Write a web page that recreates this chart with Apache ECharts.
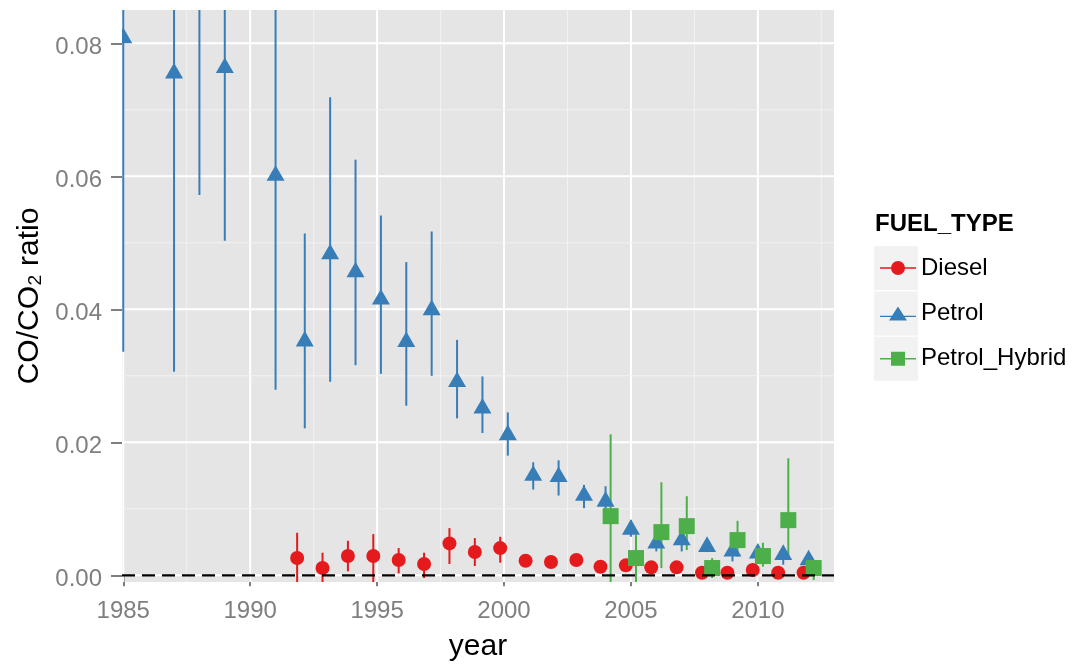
<!DOCTYPE html>
<html>
<head>
<meta charset="utf-8">
<script src="https://cdn.jsdelivr.net/npm/echarts@6/dist/echarts.min.js"></script>
<style>
html,body{margin:0;padding:0;background:#ffffff;}
#chart{width:1088px;height:668px;}
</style>
</head>
<body>
<div id="chart"></div>
<script>
// ---------------- data ----------------
const fuelTypes = ['Diesel', 'Petrol', 'Petrol_Hybrid'];

const dieselYears = [1992,1993,1994,1995,1996,1997,1998,1999,2000,2001,2002,2003,2004,2005,2006,2007,2008,2009,2010,2011,2012];
const dieselValues = [0.0026,0.0011,0.0029,0.0029,0.0023,0.0017,0.0048,0.0035,0.0041,0.0022,0.0020,0.0023,0.0013,0.0015,0.0012,0.0012,0.0004,0.0004,0.0008,0.0004,0.0004];
const dieselLow   = [-0.0012,-0.0012,0.0006,-0.0012,0.0003,-0.0004,0.0017,0.0014,0.0019,0.0015,0.0014,0.0016,0.0006,0.0008,0.0006,0.0006,0.0000,0.0000,0.0003,0.0000,0.0000];
const dieselHigh  = [0.0064,0.0034,0.0052,0.0062,0.0041,0.0034,0.0071,0.0056,0.0058,0.0029,0.0026,0.0030,0.0020,0.0022,0.0018,0.0018,0.0008,0.0008,0.0013,0.0008,0.0008];

const petrolYears = [1985,1987,1988,1989,1991,1992,1993,1994,1995,1996,1997,1998,1999,2000,2001,2002,2003,2004,2005,2006,2007,2008,2009,2010,2011,2012];
const petrolValues = [0.0808,0.0755,0.0950,0.0763,0.0601,0.0352,0.0483,0.0456,0.0415,0.0351,0.0399,0.0291,0.0251,0.0211,0.0150,0.0148,0.0120,0.0111,0.0069,0.0048,0.0053,0.0043,0.0036,0.0033,0.0031,0.0023];
const petrolLow   = [0.0336,0.0306,0.0572,0.0503,0.0279,0.0221,0.0291,0.0316,0.0303,0.0255,0.0300,0.0236,0.0214,0.0180,0.0129,0.0120,0.0101,0.0090,0.0058,0.0036,0.0036,0.0035,0.0021,0.0022,0.0016,0.0015];
const petrolHigh  = [0.1280,0.1200,0.1330,0.1020,0.0920,0.0514,0.0719,0.0625,0.0541,0.0471,0.0517,0.0354,0.0299,0.0245,0.0170,0.0173,0.0136,0.0134,0.0083,0.0058,0.0066,0.0051,0.0046,0.0046,0.0041,0.0031];

const hybridYears = [2004,2005,2006,2007,2008,2009,2010,2011,2012];
const hybridValues = [0.0089,0.0026,0.0065,0.0074,0.0011,0.0053,0.0029,0.0083,0.0011];
const hybridLow   = [-0.0040,-0.0015,0.0011,0.0038,-0.0004,0.0028,0.0013,0.0028,-0.0007];
const hybridHigh  = [0.0212,0.0061,0.0140,0.0119,0.0026,0.0082,0.0049,0.0176,0.0022];

const xTicks = [1985,1990,1995,2000,2005,2010];
const xMinorTicks = [1987.5,1992.5,1997.5,2002.5,2007.5,2012.5];
const yTicks = [0,0.02,0.04,0.06,0.08];
const yMinorTicks = [0.01,0.03,0.05,0.07];
const zeroLine = [0];

// ---------------- styling ----------------
const COLORS = { Diesel: '#E41A1C', Petrol: '#377EB8', Petrol_Hybrid: '#4DAF4A' };
const FONT = "'Liberation Sans', Arial, Helvetica, sans-serif";
const DODGE_WIDTH = 0.6;

const groups = [
  { name: 'Diesel', years: dieselYears, values: dieselValues, low: dieselLow, high: dieselHigh },
  { name: 'Petrol', years: petrolYears, values: petrolValues, low: petrolLow, high: petrolHigh },
  { name: 'Petrol_Hybrid', years: hybridYears, values: hybridValues, low: hybridLow, high: hybridHigh }
];

// position_dodge: shift each group within a year by the number of groups present
function dodgedX(g, yr) {
  const present = groups.filter(h => h.years.indexOf(yr) >= 0);
  const n = present.length;
  const k = present.indexOf(g);
  return yr + (k - (n - 1) / 2) * DODGE_WIDTH / n;
}
function seriesData(g) {
  return g.years.map((yr, i) => [dodgedX(g, yr), g.values[i], g.low[i], g.high[i]]);
}

function errorBarSeries(g) {
  return {
    type: 'custom', name: g.name, z: 3, clip: true, silent: true,
    itemStyle: { color: COLORS[g.name] },
    data: seriesData(g),
    renderItem: function (params, api) {
      const lo = api.coord([api.value(0), api.value(2)]);
      const hi = api.coord([api.value(0), api.value(3)]);
      return { type: 'line', shape: { x1: lo[0], y1: lo[1], x2: hi[0], y2: hi[1] },
               style: { stroke: COLORS[g.name], lineWidth: 2 } };
    }
  };
}

function pointSeries(g) {
  return {
    type: 'custom', name: g.name, z: 4, clip: true, silent: true,
    itemStyle: { color: COLORS[g.name] },
    data: seriesData(g),
    renderItem: function (params, api) {
      const p = api.coord([api.value(0), api.value(1)]);
      const fill = COLORS[g.name];
      if (g.name === 'Diesel') {
        return { type: 'circle', shape: { cx: p[0], cy: p[1], r: 7 }, style: { fill: fill } };
      } else if (g.name === 'Petrol') {
        return { type: 'polygon', shape: { points: [[p[0], p[1] - 10.4], [p[0] + 9, p[1] + 5.2], [p[0] - 9, p[1] + 5.2]] }, style: { fill: fill } };
      }
      return { type: 'rect', shape: { x: p[0] - 8, y: p[1] - 8, width: 16, height: 16 }, style: { fill: fill } };
    }
  };
}

const vGridData = xMinorTicks.map(v => [v, 0, 0]).concat(xTicks.map(v => [v, 0, 1]));
const hGridData = yMinorTicks.map(v => [1990, v, 0]).concat(yTicks.map(v => [1990, v, 1]));

const legendIcons = {
  Diesel: 'path://M0,6.3L36,6.3L36,7.7L0,7.7Z M11,7A7,7 0 1,1 25,7A7,7 0 1,1 11,7Z',
  Petrol: 'path://M0,9.3L36,9.3L36,10.7L0,10.7Z M18,0L27,14L9,14Z',
  Petrol_Hybrid: 'path://M0,6.3L36,6.3L36,7.7L0,7.7Z M11,0L25,0L25,14L11,14Z'
};

const keyBoxes = [246, 291.4, 336.8].map(top => ({
  type: 'rect', left: 874, top: top, z: 0,
  shape: { width: 44, height: 44 },
  style: { fill: '#F2F2F2' }
}));

const option = {
  animation: false,
  backgroundColor: '#FFFFFF',
  textStyle: { fontFamily: FONT },
  title: {
    text: 'FUEL_TYPE', left: 875, top: 212, padding: 0,
    textStyle: { fontFamily: FONT, fontSize: 24, fontWeight: 'bold', color: '#000000' }
  },
  legend: {
    orient: 'vertical', left: 880, top: 256, padding: 0,
    itemWidth: 36, itemHeight: 16, itemGap: 21.4, itemTextGap: 14,
    selectedMode: false,
    textStyle: { fontFamily: FONT, fontSize: 24, color: '#000000' },
    data: fuelTypes.map(n => ({ name: n, icon: legendIcons[n] }))
  },
  graphic: keyBoxes,
  grid: {
    left: 122, top: 10, width: 712, height: 572,
    show: true, backgroundColor: '#E5E5E5', borderWidth: 0
  },
  xAxis: {
    type: 'value', min: 1984.95, max: 2013,
    name: 'year', nameLocation: 'middle', nameGap: 50,
    nameTextStyle: { fontFamily: FONT, fontSize: 30, color: '#000000' },
    axisLine: { show: false },
    axisTick: { show: true, length: 11, lineStyle: { color: '#7F7F7F', width: 2 }, customValues: xTicks },
    axisLabel: { customValues: xTicks, color: '#7F7F7F', fontSize: 24, fontFamily: FONT, margin: 17,
                 formatter: v => String(v) },
    splitLine: { show: false }
  },
  yAxis: {
    type: 'value', min: -0.001, max: 0.085,
    name: 'CO/CO\u2082 ratio', nameLocation: 'middle', nameGap: 74,
    nameTextStyle: { fontFamily: FONT, fontSize: 30, color: '#000000' },
    axisLine: { show: false },
    axisTick: { show: true, length: 11, lineStyle: { color: '#7F7F7F', width: 2 }, customValues: yTicks },
    axisLabel: { customValues: yTicks, color: '#7F7F7F', fontSize: 24, fontFamily: FONT, margin: 20,
                 formatter: v => '{t|' + v.toFixed(2) + '}',
                 rich: { t: { color: '#7F7F7F', fontSize: 24, fontFamily: FONT, padding: [8, 0, 0, 0] } } },
    splitLine: { show: false }
  },
  series: [
    {
      type: 'custom', name: '_vgrid', z: 1, silent: true, clip: true, data: vGridData,
      renderItem: function (params, api) {
        const cs = params.coordSys;
        const x = api.coord([api.value(0), 0])[0];
        const major = api.value(2) === 1;
        return { type: 'line', shape: { x1: x, y1: cs.y, x2: x, y2: cs.y + cs.height },
                 style: { stroke: major ? '#FFFFFF' : '#F2F2F2', lineWidth: major ? 2 : 1 } };
      }
    },
    {
      type: 'custom', name: '_hgrid', z: 1, silent: true, clip: true, data: hGridData,
      renderItem: function (params, api) {
        const cs = params.coordSys;
        const y = api.coord([1990, api.value(1)])[1];
        const major = api.value(2) === 1;
        return { type: 'line', shape: { x1: cs.x, y1: y, x2: cs.x + cs.width, y2: y },
                 style: { stroke: major ? '#FFFFFF' : '#F2F2F2', lineWidth: major ? 2 : 1 } };
      }
    }
  ].concat(groups.map(errorBarSeries)).concat(groups.map(pointSeries)).concat([
    {
      type: 'custom', name: '_zero', z: 6, silent: true, clip: true,
      data: zeroLine.map(v => [1990, v]),
      renderItem: function (params, api) {
        const cs = params.coordSys;
        const y = api.coord([api.value(0), api.value(1)])[1];
        return { type: 'line', shape: { x1: cs.x, y1: y, x2: cs.x + cs.width, y2: y },
                 style: { stroke: '#000000', lineWidth: 2.2, lineDash: [13, 7] } };
      }
    }
  ])
};

const chart = echarts.init(document.getElementById('chart'), null, { renderer: 'canvas' });
chart.setOption(option);
</script>
</body>
</html>
